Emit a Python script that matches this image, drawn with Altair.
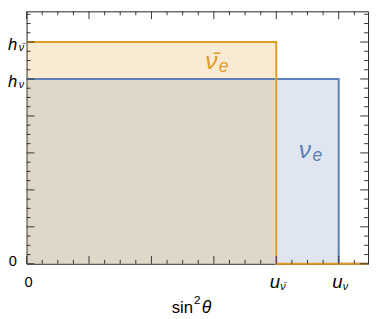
import altair as alt
import pandas as pd

# ---- data ----
u_vbar, u_v = 4.0, 5.0          # x positions of the step edges
h_vbar, h_v = 6.0, 5.0          # heights of the steps
x_max, y_max = 5.47, 6.83       # visible range

vbar_x = [0.0, u_vbar, x_max]
vbar_y = [h_vbar, 0.0, 0.0]
v_x = [0.0, u_v, x_max]
v_y = [h_v, 0.0, 0.0]

x_major = [0, 1, 2, 3, 4, 5]
x_minor = [i / 4 for i in range(1, 22) if i % 4]
y_major = [0, 1, 2, 3, 4, 5, 6]
y_minor = [i / 4 for i in range(1, 28) if i % 4]

y_lab_pos = [h_vbar, h_v]
y_lab_sub = ["\u03bd\u0304", "\u03bd"]
x_lab_pos = [u_vbar, u_v]
x_lab_sub = ["\u03bd\u0304", "\u03bd"]

ann_x = [2.86, 4.36]
ann_y = [5.26, 2.86]
ann_main = ["\u03bd\u0304", "\u03bd"]
ann_color = ["#E19C24", "#5E81B5"]

ORANGE = "#E19C24"
BLUE = "#5E81B5"
FONT = "Liberation Sans"
W, H = 349, 258

xs = alt.Scale(domain=[0, x_max], nice=False, zero=False)
ys = alt.Scale(domain=[0, y_max], nice=False, zero=False)


def X(f="x"):
    return alt.X(f"{f}:Q", scale=xs, axis=None)


def Y(f="y"):
    return alt.Y(f"{f}:Q", scale=ys, axis=None)


df_vbar = pd.DataFrame({"x": vbar_x, "y": vbar_y})
df_v = pd.DataFrame({"x": v_x, "y": v_y})

area_v = alt.Chart(df_v).mark_area(interpolate="step-after", color=BLUE, opacity=0.2).encode(x=X(), y=Y())
area_vbar = alt.Chart(df_vbar).mark_area(interpolate="step-after", color=ORANGE, opacity=0.2).encode(x=X(), y=Y())
line_v = alt.Chart(df_v).mark_line(interpolate="step-after", color=BLUE, strokeWidth=2).encode(x=X(), y=Y())
line_vbar = alt.Chart(df_vbar).mark_line(interpolate="step-after", color=ORANGE, strokeWidth=2).encode(x=X(), y=Y())

TICK = "#333333"


def ticks(vals, side, length):
    df = pd.DataFrame({"t": vals})
    m = alt.Chart(df).mark_rule(color=TICK, strokeWidth=1)
    if side == "bottom":
        return m.encode(x=X("t"), y=alt.value(H), y2=alt.value(H - length))
    if side == "top":
        return m.encode(x=X("t"), y=alt.value(0), y2=alt.value(length))
    if side == "left":
        return m.encode(y=Y("t"), x=alt.value(0), x2=alt.value(length))
    return m.encode(y=Y("t"), x=alt.value(W), x2=alt.value(W - length))


tick_layers = []
for side in ["bottom", "top"]:
    tick_layers.append(ticks(x_major, side, 8))
    tick_layers.append(ticks(x_minor, side, 4))
for side in ["left", "right"]:
    tick_layers.append(ticks(y_major, side, 8))
    tick_layers.append(ticks(y_minor, side, 4))

# y axis labels
df_y0 = pd.DataFrame({"y": [0.0]})
y0_lab = alt.Chart(df_y0).mark_text(align="right", baseline="alphabetic", fontSize=15, font=FONT, color="black", dy=2).encode(
    y=Y(), x=alt.value(-10), text=alt.value("0"))
df_ylab = pd.DataFrame({"y": y_lab_pos, "sub": y_lab_sub})
yh_lab = alt.Chart(df_ylab).mark_text(align="left", baseline="alphabetic", fontSize=17, font=FONT, fontStyle="italic", color="black", dy=8).encode(
    y=Y(), x=alt.value(-19), text=alt.value("h"))
ysub_lab = alt.Chart(df_ylab).mark_text(align="left", baseline="alphabetic", fontSize=11, font=FONT, fontStyle="italic", color="black", dy=9).encode(
    y=Y(), x=alt.value(-8), text="sub:N")

# x axis labels
df_x0 = pd.DataFrame({"x": [0.0]})
x0_lab = alt.Chart(df_x0).mark_text(align="center", baseline="alphabetic", fontSize=15, font=FONT, color="black", dx=2).encode(
    x=X(), y=alt.value(H + 24), text=alt.value("0"))
df_xlab = pd.DataFrame({"x": x_lab_pos, "sub": x_lab_sub})
xu_lab = alt.Chart(df_xlab).mark_text(align="right", baseline="alphabetic", fontSize=19, font=FONT, fontStyle="italic", color="black", dx=4).encode(
    x=X(), y=alt.value(H + 25), text=alt.value("u"))
xsub_lab = alt.Chart(df_xlab).mark_text(align="left", baseline="alphabetic", fontSize=11, font=FONT, fontStyle="italic", color="black", dx=4).encode(
    x=X(), y=alt.value(H + 27), text="sub:N")

# axis title
df_t = pd.DataFrame({"a": ["sin"], "s": ["2"], "b": ["\u03b8"]})
title_a = alt.Chart(df_t).mark_text(align="right", baseline="alphabetic", fontSize=17, font=FONT, color="black").encode(
    x=alt.value(170), y=alt.value(H + 50), text="a:N")
title_s = alt.Chart(df_t).mark_text(align="left", baseline="alphabetic", fontSize=12, font=FONT, color="black").encode(
    x=alt.value(171), y=alt.value(H + 41), text="s:N")
title_b = alt.Chart(df_t).mark_text(align="left", baseline="alphabetic", fontSize=18, font=FONT, fontStyle="italic", color="black").encode(
    x=alt.value(179), y=alt.value(H + 50), text="b:N")

# in-plot annotations
df_ann = pd.DataFrame({"x": ann_x, "y": ann_y, "main": ann_main, "c": ann_color})
ann_main_m = alt.Chart(df_ann).mark_text(align="left", baseline="alphabetic", fontSize=25, font=FONT, fontStyle="italic").encode(
    x=X(), y=Y(), text="main:N", color=alt.Color("c:N", scale=None))
ann_sub_m = alt.Chart(df_ann).mark_text(align="left", baseline="alphabetic", fontSize=18, font=FONT, fontStyle="italic", dx=14, dy=3).encode(
    x=X(), y=Y(), text=alt.value("e"), color=alt.Color("c:N", scale=None))

chart = alt.layer(
    area_v, area_vbar, line_v, line_vbar, *tick_layers,
    y0_lab, yh_lab, ysub_lab, x0_lab, xu_lab, xsub_lab, title_a, title_s, title_b,
    ann_main_m, ann_sub_m,
).properties(
    width=W, height=H,
    autosize=alt.AutoSizeParams(type="none"),
    padding={"left": 19, "top": 0, "right": 3, "bottom": 53},
).configure_view(stroke="#222222", strokeWidth=1)

chart.save("out.html", embed_options={"renderer": "svg", "actions": False})
